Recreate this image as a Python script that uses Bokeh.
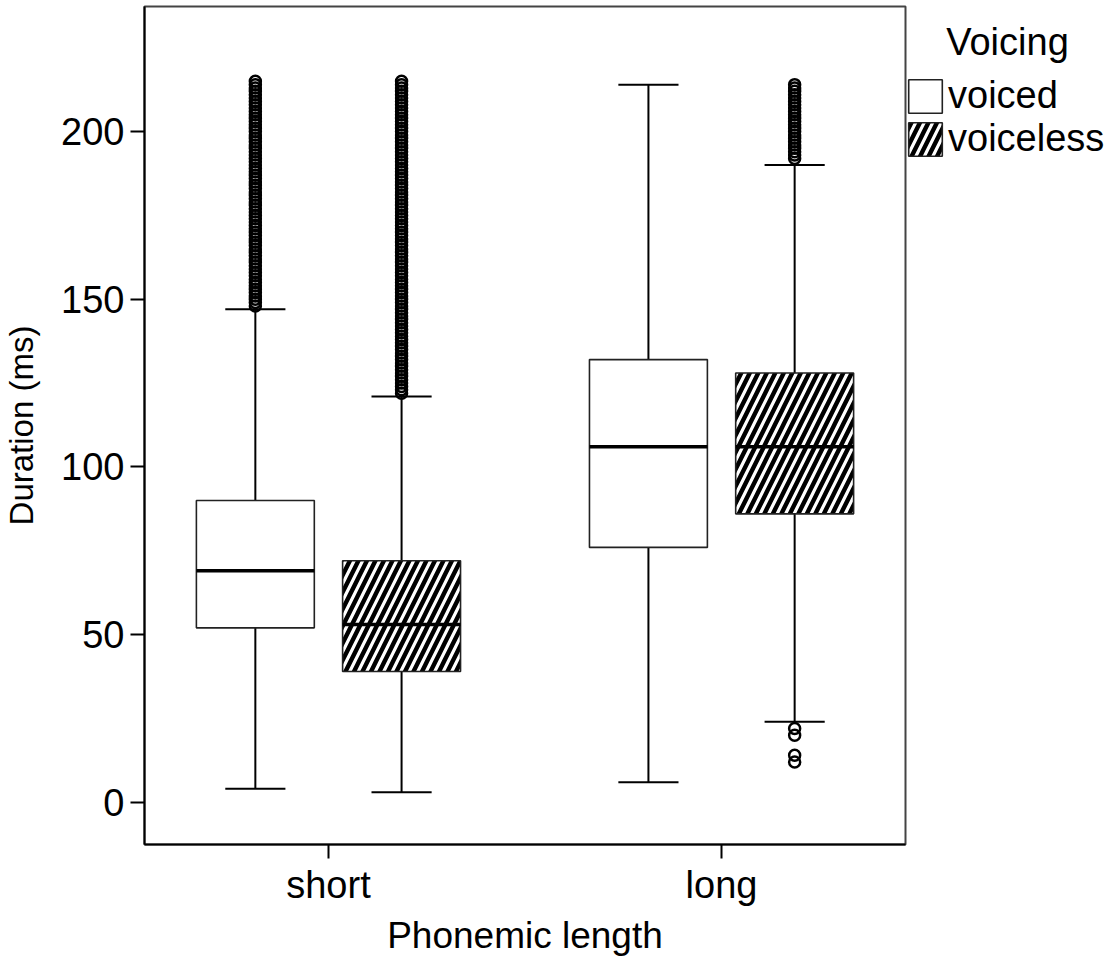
from bokeh.plotting import figure
from bokeh.models import ColumnDataSource, Range1d, FixedTicker, Legend, LegendItem
from bokeh.embed import file_html
from bokeh.resources import INLINE

# ---------------- data ----------------
lengths = ["short", "long"]
voicings = ["voiced", "voiceless"]
legend_title = "Voicing"

group_length = ["short", "short", "long", "long"]
group_voicing = ["voiced", "voiceless", "voiced", "voiceless"]
lower_whisker = [4, 3, 6, 24]
q1 = [52, 39, 76, 86]
median = [69, 53, 106, 106]
q3 = [90, 72, 132, 128]
upper_whisker = [147, 121, 214, 190]

outliers_short_voiced = [
    148, 149, 150, 151, 152, 153, 154, 155, 156, 157, 158, 159, 160, 161, 162,
    163, 164, 165, 166, 167, 168, 169, 170, 171, 172, 173, 174, 175, 176, 177,
    178, 179, 180, 181, 182, 183, 184, 185, 186, 187, 188, 189, 190, 191, 192,
    193, 194, 195, 196, 197, 198, 199, 200, 201, 202, 203, 204, 205, 206, 207,
    208, 209, 210, 211, 212, 213, 214, 215]
outliers_short_voiceless = [
    122, 123, 124, 125, 126, 127, 128, 129, 130, 131, 132, 133, 134, 135, 136,
    137, 138, 139, 140, 141, 142, 143, 144, 145, 146, 147, 148, 149, 150, 151,
    152, 153, 154, 155, 156, 157, 158, 159, 160, 161, 162, 163, 164, 165, 166,
    167, 168, 169, 170, 171, 172, 173, 174, 175, 176, 177, 178, 179, 180, 181,
    182, 183, 184, 185, 186, 187, 188, 189, 190, 191, 192, 193, 194, 195, 196,
    197, 198, 199, 200, 201, 202, 203, 204, 205, 206, 207, 208, 209, 210, 211,
    212, 213, 214, 215]
outliers_long_voiced = []
outliers_long_voiceless = [
    192, 193, 194, 195, 196, 197, 198, 199, 200, 201, 202, 203, 204, 205, 206,
    207, 208, 209, 210, 211, 212, 213, 214, 22, 20, 14, 12]

outliers_by_group = [outliers_short_voiced, outliers_short_voiceless,
                     outliers_long_voiced, outliers_long_voiceless]

# ---------------- styling constants ----------------
FONT = "Liberation Sans"
DODGE = {"voiced": -0.186, "voiceless": 0.186}
BOX_W = 0.30
CAP_W = 0.153
VOICED_STYLE = dict(fill_color="white", line_color="#222222", line_width=1.6)
VOICELESS_STYLE = dict(fill_color="black", line_color="#222222", line_width=1.6,
                       hatch_pattern="/", hatch_color="white", hatch_scale=17, hatch_weight=3.2)

xpos = [lengths.index(l) + DODGE[v] for l, v in zip(group_length, group_voicing)]

src = ColumnDataSource(dict(
    x=xpos, left=[x - BOX_W / 2 for x in xpos], right=[x + BOX_W / 2 for x in xpos],
    cl=[x - CAP_W / 2 for x in xpos], cr=[x + CAP_W / 2 for x in xpos],
    lw=lower_whisker, q1=q1, med=median, q3=q3, uw=upper_whisker,
    voicing=group_voicing,
))
src_voiced = ColumnDataSource({k: [v for v, g in zip(vals, group_voicing) if g == "voiced"]
                               for k, vals in src.data.items()})
src_voiceless = ColumnDataSource({k: [v for v, g in zip(vals, group_voicing) if g == "voiceless"]
                                  for k, vals in src.data.items()})

out_x, out_y = [], []
for x, outs in zip(xpos, outliers_by_group):
    for o in outs:
        out_x.append(x)
        out_y.append(o)

p = figure(frame_width=761, frame_height=838,
           x_range=Range1d(-0.468, 1.468), y_range=Range1d(-12.6, 237.3),
           output_backend="svg", toolbar_location=None,
           min_border_left=141, min_border_right=196,
           min_border_top=6, min_border_bottom=111)

# whiskers
p.segment(x0="x", y0="q3", x1="x", y1="uw", source=src, line_color="black", line_width=2)
p.segment(x0="x", y0="lw", x1="x", y1="q1", source=src, line_color="black", line_width=2)
p.segment(x0="cl", y0="uw", x1="cr", y1="uw", source=src, line_color="black", line_width=2)
p.segment(x0="cl", y0="lw", x1="cr", y1="lw", source=src, line_color="black", line_width=2)

# boxes
r_voiced = p.quad(left="left", right="right", bottom="q1", top="q3", source=src_voiced,
                  **VOICED_STYLE)
r_voiceless = p.quad(left="left", right="right", bottom="q1", top="q3", source=src_voiceless,
                     **VOICELESS_STYLE)

# medians
p.segment(x0="left", y0="med", x1="right", y1="med", source=src, line_color="black", line_width=3.5)

# outliers (hollow circles)
p.scatter(out_x, out_y, marker="circle", size=11, fill_color=None,
          line_color="black", line_width=2.5)

# axes
p.xgrid.visible = False
p.ygrid.visible = False
p.outline_line_color = "#444444"
p.outline_line_width = 2
p.background_fill_color = "white"
p.border_fill_color = "white"

p.xaxis.ticker = FixedTicker(ticks=[0, 1])
p.xaxis.major_label_overrides = {0: lengths[0], 1: lengths[1]}
p.yaxis.ticker = FixedTicker(ticks=[0, 50, 100, 150, 200])
p.xaxis.axis_label = "Phonemic length"
p.yaxis.axis_label = "Duration (ms)"
for ax in (p.xaxis[0], p.yaxis[0]):
    ax.axis_line_color = "black"
    ax.axis_line_width = 2
    ax.major_tick_line_color = "black"
    ax.major_tick_line_width = 2
    ax.major_tick_out = 14
    ax.major_tick_in = 0
    ax.minor_tick_line_color = None
    ax.major_label_text_font = FONT
    ax.major_label_text_font_size = "38px"
    ax.major_label_text_color = "black"
    ax.axis_label_text_font = FONT
    ax.axis_label_text_font_size = "37px"
    ax.axis_label_text_font_style = "normal"
    ax.axis_label_text_color = "black"
p.yaxis.axis_label_text_font_size = "33px"
p.yaxis.major_label_standoff = 6
p.yaxis.axis_label_standoff = 18
p.xaxis.major_label_standoff = 5
p.xaxis.axis_label_standoff = 6

# ---------------- legend (right panel) ----------------
legend = Legend(items=[LegendItem(label=voicings[0], renderers=[r_voiced]),
                       LegendItem(label=voicings[1], renderers=[r_voiceless])],
                title="\u00a0\u00a0\u00a0\u00a0" + legend_title,
                title_text_font=FONT, title_text_font_size="38px",
                title_text_font_style="normal", title_text_color="black",
                title_standoff=10,
                location=(-1, 684), orientation="vertical",
                glyph_width=42, glyph_height=42, label_standoff=2, spacing=0,
                padding=0, margin=0, border_line_color=None, background_fill_alpha=0,
                label_text_font=FONT, label_text_font_size="38px", label_text_color="black")
p.add_layout(legend, "right")

open("out.html", "w").write(file_html(p, INLINE))
